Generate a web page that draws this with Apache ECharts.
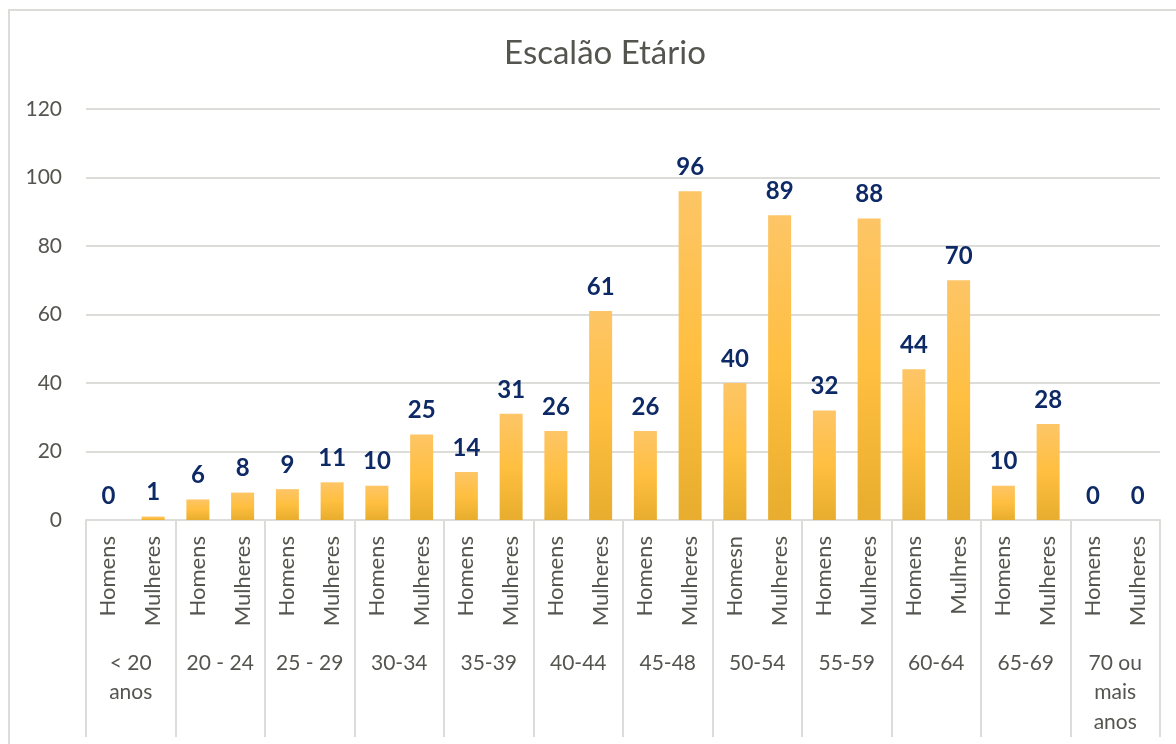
<!doctype html>
<html lang="pt">
<head>
  <meta charset="utf-8">
  <title>Escalão Etário</title>
  <script src="https://cdn.jsdelivr.net/npm/echarts@6/dist/echarts.min.js"></script>
  <style>
    html, body { margin: 0; padding: 0; background: #ffffff; }
    #chart { width: 1176px; height: 744px; }
  </style>
</head>
<body>
  <div id="chart"></div>
  <script type="text/javascript">
    // age groups (second level of the category axis)
    const groups = ['< 20\nanos', '20 - 24', '25 - 29', '30-34', '35-39', '40-44',
                    '45-48', '50-54', '55-59', '60-64', '65-69', '70 ou\nmais\nanos'];
    // first level labels, as written in the source (typos included)
    const subLabels = [
      'Homens', 'Mulheres', 'Homens', 'Mulheres', 'Homens', 'Mulheres',
      'Homens', 'Mulheres', 'Homens', 'Mulheres', 'Homens', 'Mulheres',
      'Homens', 'Mulheres', 'Homesn', 'Mulheres', 'Homens', 'Mulheres',
      'Homens', 'Mulhres', 'Homens', 'Mulheres', 'Homens', 'Mulheres'
    ];
    const counts = [0, 1, 6, 8, 9, 11, 10, 25, 14, 31, 26, 61,
                    26, 96, 40, 89, 32, 88, 44, 70, 10, 28, 0, 0];

    const textColor = '#555550';
    const lineColor = '#dcdcd8';
    const font = 'Lato, "Open Sans", sans-serif';

    let chart = echarts.init(document.getElementById('chart'));
    let option = {
      backgroundColor: '#ffffff',
      textStyle: { fontFamily: font },
      title: {
        text: 'Escalão Etário',
        left: 600,
        textAlign: 'center',
        top: 32,
        textStyle: { color: textColor, fontSize: 33, fontWeight: 'normal', fontFamily: font }
      },
      graphic: [{
        type: 'rect',
        shape: { x: 9, y: 10, width: 1300, height: 900 },
        style: { fill: 'none', stroke: lineColor, lineWidth: 2 },
        silent: true
      }],
      grid: { left: 86, right: 16, top: 109, bottom: 224, containLabel: false },
      xAxis: [{
        type: 'category',
        data: subLabels,
        position: 'bottom',
        axisLine: { lineStyle: { color: lineColor, width: 2 } },
        axisTick: { show: false },
        axisLabel: { interval: 0, rotate: 90, margin: 16, fontSize: 22, color: textColor, fontFamily: font }
      }, {
        type: 'category',
        data: groups,
        position: 'bottom',
        axisLine: { show: false },
        axisTick: { show: true, length: 217, interval: 0, lineStyle: { color: lineColor, width: 2 } },
        axisLabel: { interval: 0, margin: 128, fontSize: 21, lineHeight: 29.5, color: textColor, fontFamily: font }
      }],
      yAxis: {
        type: 'value',
        min: 0,
        max: 120,
        interval: 20,
        axisLine: { show: false },
        axisTick: { show: false },
        splitLine: { lineStyle: { color: lineColor, width: 2 } },
        axisLabel: { margin: 24, fontSize: 21, color: textColor, fontFamily: font }
      },
      series: [{
        type: 'bar',
        xAxisIndex: 0,
        data: counts,
        barWidth: 23,
        itemStyle: {
          color: new echarts.graphic.LinearGradient(0, 0, 0, 1, [
            { offset: 0, color: '#fdc566' },
            { offset: 0.5, color: '#ffbf40' },
            { offset: 1, color: '#e8ad2e' }
          ])
        },
        label: {
          show: true,
          position: 'top',
          distance: 12,
          fontSize: 24,
          fontWeight: 'bold',
          color: '#0e2a66',
          fontFamily: font
        }
      }]
    };
    chart.setOption(option);
  </script>
</body>
</html>
